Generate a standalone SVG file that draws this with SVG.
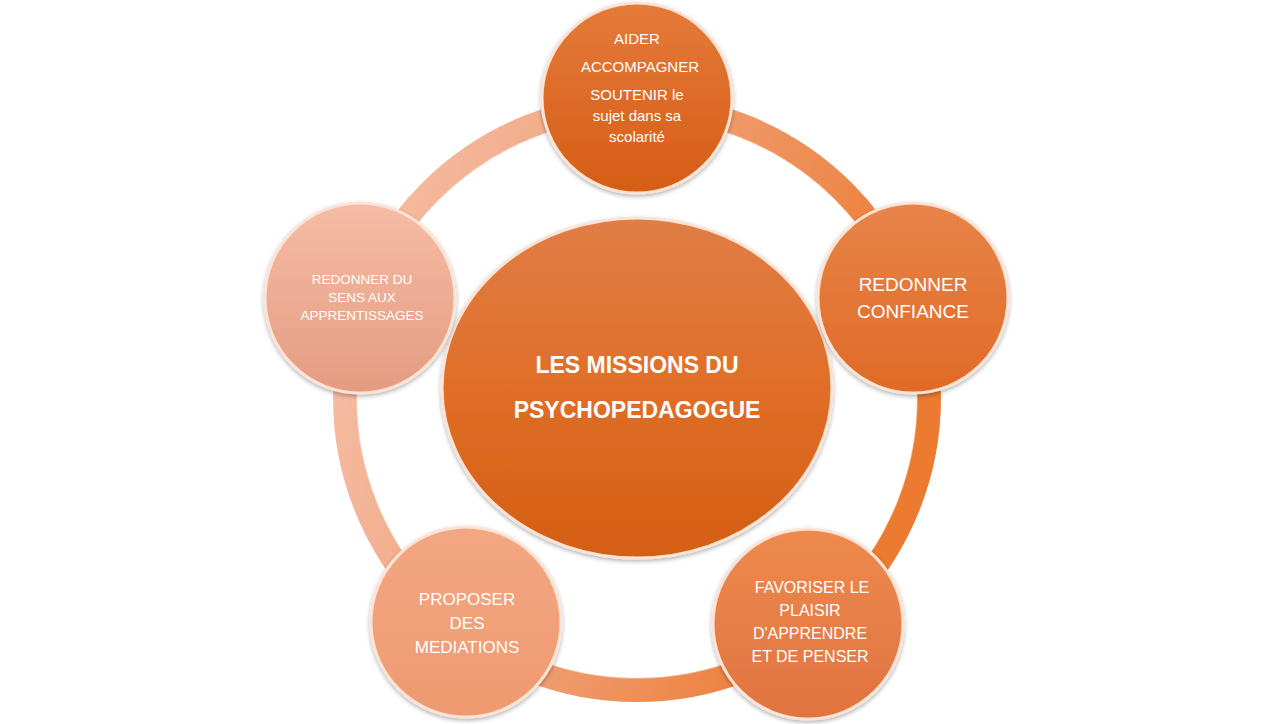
<svg xmlns="http://www.w3.org/2000/svg" width="1275" height="724" viewBox="0 0 1275 724">
<defs>
<linearGradient id="ring" x1="0" y1="0" x2="1" y2="0.3"><stop offset="0" stop-color="#f6c2ac"/><stop offset="0.5" stop-color="#f0a27a"/><stop offset="1" stop-color="#ec7a30"/></linearGradient>
<linearGradient id="gTop" x1="0" y1="0" x2="0" y2="1"><stop offset="0" stop-color="#e57a3a"/><stop offset="1" stop-color="#d55d16"/></linearGradient>
<linearGradient id="gR" x1="0" y1="0" x2="0" y2="1"><stop offset="0" stop-color="#e8844a"/><stop offset="1" stop-color="#e06a26"/></linearGradient>
<linearGradient id="gBR" x1="0" y1="0" x2="0" y2="1"><stop offset="0" stop-color="#ee8a4e"/><stop offset="1" stop-color="#e07340"/></linearGradient>
<linearGradient id="gBL" x1="0" y1="0" x2="0" y2="1"><stop offset="0" stop-color="#f3a782"/><stop offset="1" stop-color="#ef9a70"/></linearGradient>
<linearGradient id="gL" x1="0" y1="0" x2="0" y2="1"><stop offset="0" stop-color="#f6bca6"/><stop offset="1" stop-color="#e49c80"/></linearGradient>
<linearGradient id="gC" x1="0" y1="0" x2="0" y2="1"><stop offset="0" stop-color="#e07d46"/><stop offset="0.5" stop-color="#e06e28"/><stop offset="1" stop-color="#d45e12"/></linearGradient>
<filter id="sh" x="-20%" y="-20%" width="140%" height="140%"><feDropShadow dx="0" dy="2" stdDeviation="2" flood-color="#000" flood-opacity="0.3"/></filter>
</defs>
<style>
.n{stroke:#fbe3d6;stroke-width:3;filter:url(#sh)}
.t{font-family:"Liberation Sans",Arial,sans-serif;fill:#fff;text-anchor:middle}
</style>
<rect width="1275" height="724" fill="#fff"/>
<g id="connectors">
<circle cx="637" cy="398" r="292" fill="none" stroke="url(#ring)" stroke-width="24"/>
<circle cx="637" cy="398" r="280" fill="none" stroke="#fff" stroke-opacity="0.4" stroke-width="1.5"/>
</g>
<g id="center"><ellipse cx="637" cy="388" rx="195" ry="170" fill="url(#gC)" class="n"/>
<text class="t" font-size="23" font-weight="bold"><tspan x="637" y="373">LES MISSIONS DU</tspan><tspan x="637" y="418">PSYCHOPEDAGOGUE</tspan></text></g>
<g id="n-top"><circle cx="637" cy="98" r="95" fill="url(#gTop)" class="n"/>
<text class="t" font-size="15"><tspan x="637" y="44">AIDER</tspan><tspan x="640" y="72">ACCOMPAGNER</tspan><tspan x="637" y="100">SOUTENIR le</tspan><tspan x="637" y="121">sujet dans sa</tspan><tspan x="637" y="142">scolarité</tspan></text></g>
<g id="n-right"><circle cx="913" cy="298" r="95" fill="url(#gR)" class="n"/>
<text class="t" font-size="19"><tspan x="913" y="291">REDONNER</tspan><tspan x="913" y="318">CONFIANCE</tspan></text></g>
<g id="n-br"><circle cx="808" cy="624" r="95" fill="url(#gBR)" class="n"/>
<text class="t" font-size="16"><tspan x="812" y="593">FAVORISER LE</tspan><tspan x="810" y="616">PLAISIR</tspan><tspan x="810" y="639">D'APPRENDRE</tspan><tspan x="810" y="662">ET DE PENSER</tspan></text></g>
<g id="n-bl"><circle cx="466" cy="622" r="95" fill="url(#gBL)" class="n"/>
<text class="t" font-size="17"><tspan x="467" y="605">PROPOSER</tspan><tspan x="467" y="629">DES</tspan><tspan x="467" y="653">MEDIATIONS</tspan></text></g>
<g id="n-left"><circle cx="360" cy="298" r="95" fill="url(#gL)" class="n"/>
<text class="t" font-size="13.5"><tspan x="362" y="284">REDONNER DU</tspan><tspan x="362" y="302">SENS AUX</tspan><tspan x="362" y="320">APPRENTISSAGES</tspan></text></g>
</svg>
